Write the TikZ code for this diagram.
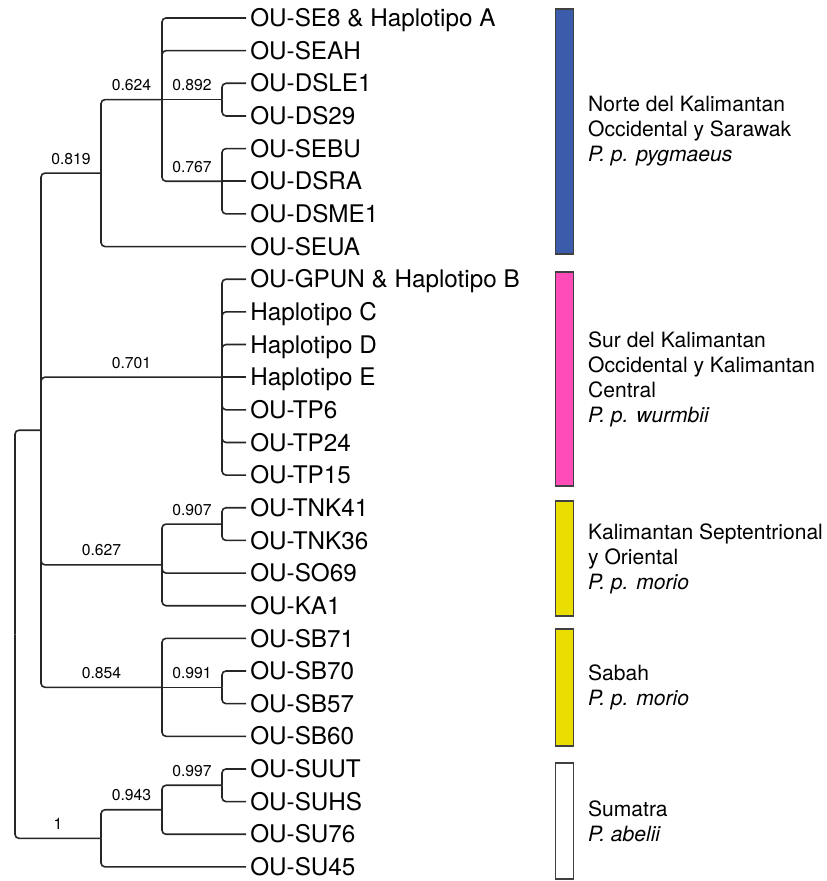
\documentclass[tikz,border=0pt]{standalone}
\usepackage{fontspec}
\setmainfont{TeX Gyre Heros}
\usepackage{xcolor}
\usepackage{tikz}
\usetikzlibrary{positioning}

\definecolor{norteblue}{RGB}{59,92,170}
\definecolor{surpink}{RGB}{255,76,184}
\definecolor{morioyellow}{RGB}{236,221,0}

% leaf row -> y position
\newcommand{\ly}[1]{18+(#1-1)*32.65}

\begin{document}
\begin{tikzpicture}[
    x=0.75pt,
    y=-0.75pt,
    branch/.style={line width=1.2pt, draw=black!85, rounded corners=3pt},
    leaf/.style={anchor=west, inner xsep=3pt, inner ysep=0pt, text height=13pt, text depth=0pt, font=\fontsize{18.2}{21}\selectfont},
    supp/.style={above=6pt, inner sep=0pt, font=\fontsize{11.8}{14}\selectfont},
    bar/.style={draw=black!75, line width=1pt, minimum width=13.1pt, inner sep=0pt},
    region/.style={inner sep=0pt, align=left, font=\fontsize{15.8}{18.75}\selectfont}
]
\useasboundingbox (0,0) rectangle (826,881);

% leaves
\foreach \i/\name in {1/{OU-SE8 \& Haplotipo A},2/OU-SEAH,3/OU-DSLE1,4/OU-DS29,5/OU-SEBU,
    6/OU-DSRA,7/OU-DSME1,8/OU-SEUA,9/{OU-GPUN \& Haplotipo B},10/Haplotipo C,11/Haplotipo D,
    12/Haplotipo E,13/OU-TP6,14/OU-TP24,15/OU-TP15,16/OU-TNK41,17/OU-TNK36,18/OU-SO69,
    19/OU-KA1,20/OU-SB71,21/OU-SB70,22/OU-SB57,23/OU-SB60,24/OU-SUUT,25/OU-SUHS,
    26/OU-SU76,27/OU-SU45}{
  \node[leaf] (l\i) at (246,{\ly{\i}}) {\name};
}

% internal nodes
\coordinate (R) at (15,{\ly{19.875}});
\coordinate (A) at (41,{\ly{13.625}});
\coordinate (N) at (101,{\ly{5.75}});
\coordinate (P) at (162,{\ly{3.5}});
\coordinate (D) at (222,{\ly{3.5}});
\coordinate (E) at (222,{\ly{6}});
\coordinate (W) at (222,{\ly{12}});
\coordinate (T) at (162,{\ly{17.75}});
\coordinate (K) at (222,{\ly{16.5}});
\coordinate (B) at (162,{\ly{21.5}});
\coordinate (Q) at (222,{\ly{21.5}});
\coordinate (S) at (101,{\ly{26.125}});
\coordinate (V) at (162,{\ly{25.25}});
\coordinate (U) at (222,{\ly{24.5}});

% root and backbone
\draw[branch] (R) |- (A);
\draw[branch] (R) |- (S) node[supp, pos=0.75] {1};
\draw[branch] (A) |- (N) node[supp, pos=0.75] {0.819};
\draw[branch] (A) |- (W) node[supp, pos=0.75] {0.701};
\draw[branch] (A) |- (T) node[supp, pos=0.75] {0.627};
\draw[branch] (A) |- (B) node[supp, pos=0.75] {0.854};

% pygmaeus
\draw[branch] (N) |- (P) node[supp, pos=0.75] {0.624};
\draw[branch] (N) |- (l8.west);
\draw[branch] (P) -- (D) node[supp, midway] {0.892};
\draw[branch] (P) |- (E) node[supp, pos=0.75] {0.767};
\foreach \i in {1,2} \draw[branch] (P) |- (l\i.west);
\foreach \i in {3,4} \draw[branch] (D) |- (l\i.west);
\foreach \i in {5,7} \draw[branch] (E) |- (l\i.west);
\draw[branch] (E) -- (l6.west);

% wurmbii
\foreach \i in {9,10,11,13,14,15} \draw[branch] (W) |- (l\i.west);
\draw[branch] (W) -- (l12.west);

% morio
\draw[branch] (T) |- (K) node[supp, pos=0.75] {0.907};
\foreach \i in {18,19} \draw[branch] (T) |- (l\i.west);
\foreach \i in {16,17} \draw[branch] (K) |- (l\i.west);
\draw[branch] (B) -- (Q) node[supp, midway] {0.991};
\foreach \i in {20,23} \draw[branch] (B) |- (l\i.west);
\foreach \i in {21,22} \draw[branch] (Q) |- (l\i.west);

% abelii
\draw[branch] (S) |- (V) node[supp, pos=0.75] {0.943};
\draw[branch] (S) |- (l27.west);
\draw[branch] (V) |- (U) node[supp, pos=0.75] {0.997};
\draw[branch] (V) |- (l26.west);
\foreach \i in {24,25} \draw[branch] (U) |- (l\i.west);

% bars
\node[bar, fill=norteblue, minimum height=183.75pt] (barN) at (564.5,131.5) {};
\node[bar, fill=surpink, minimum height=160.5pt] (barW) at (564.5,379) {};
\node[bar, fill=morioyellow, minimum height=86.25pt] (barK) at (564.5,558.5) {};
\node[bar, fill=morioyellow, minimum height=87.75pt] (barB) at (564.5,687.5) {};
\node[bar, fill=white, minimum height=87pt] (barS) at (564.5,821) {};

\node[region, right=10.5pt of barN] (txtN) {Norte del Kalimantan\\Occidental y Sarawak\\\textit{P. p. pygmaeus}};
\node[region, right=10.5pt of barW] (txtW) {Sur del Kalimantan\\Occidental y Kalimantan\\Central\\\textit{P. p. wurmbii}};
\node[region, right=10.5pt of barK] (txtK) {Kalimantan Septentrional\\y Oriental\\\textit{P. p. morio}};
\node[region, right=10.5pt of barB] (txtB) {Sabah\\\textit{P. p. morio}};
\node[region, right=10.5pt of barS] (txtS) {Sumatra\\\textit{P. abelii}};
\end{tikzpicture}
\end{document}
